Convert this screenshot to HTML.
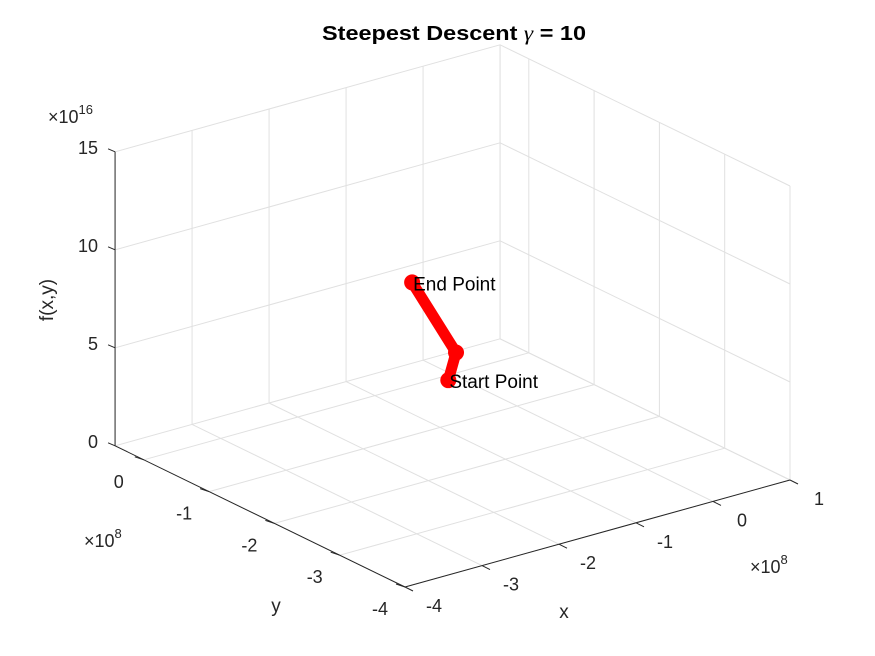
<!DOCTYPE html>
<html><head><meta charset="utf-8"><style>
body{margin:0;background:#fff;}
svg{display:block;font-family:"Liberation Sans",sans-serif;}
</style></head><body>
<svg id="chart" width="875" height="656">
<rect width="875" height="656" fill="#fff"/>
<g id="grid"></g>
<g id="axes"></g>
<g id="series"></g>
<text x="322" y="40" textLength="264" lengthAdjust="spacingAndGlyphs" font-size="20" font-weight="bold" fill="#000">Steepest Descent <tspan font-style="italic" font-weight="normal" font-family="Liberation Serif">γ</tspan> = 10</text>
<text transform="translate(53,300) rotate(-90)" text-anchor="middle" font-size="19" fill="#262626">f(x,y)</text>
<text x="276" y="612" text-anchor="middle" font-size="19" fill="#262626">y</text>
<text x="564" y="618" text-anchor="middle" font-size="19" fill="#262626">x</text>
<text x="48" y="123" font-size="18" fill="#262626">×10<tspan dy="-9" font-size="13">16</tspan></text>
<text x="84" y="547" font-size="18" fill="#262626">×10<tspan dy="-9" font-size="13">8</tspan></text>
<text x="750" y="573" font-size="18" fill="#262626">×10<tspan dy="-9" font-size="13">8</tspan></text>
</svg>
<script>
const xTicks=[-4,-3,-2,-1,0,1];
const yTicks=[-4,-3,-2,-1,0];
const zTicks=[0,5,10,15];
const xLim=[-4,1];
const yLim=[-4,0.44];
const zLim=[0,15];
const pathX=[-0.13,-0.03,-0.6];
const pathY=[-0.1,-0.1,-0.1];
const pathZ=[0.0,1.3,5.5];
const pointLabels=["Start Point","","End Point"];

const NS="http://www.w3.org/2000/svg";
function P(x,y,z){
  return [405+(x+4)*77-(y+4)*65.3, 587-(x+4)*21.4-(y+4)*31.8-z*19.6];
}
function line(g,a,b,stroke,w,name){
  const l=document.createElementNS(NS,'line');
  l.setAttribute('x1',a[0]);l.setAttribute('y1',a[1]);
  l.setAttribute('x2',b[0]);l.setAttribute('y2',b[1]);
  l.setAttribute('stroke',stroke);l.setAttribute('stroke-width',w);
  
  
  g.appendChild(l);return l;
}
function text(g,x,y,s,anchor,name,size,fill){
  const t=document.createElementNS(NS,'text');
  t.setAttribute('x',x);t.setAttribute('y',y);
  t.setAttribute('text-anchor',anchor);
  t.setAttribute('font-size',size||16);
  t.setAttribute('fill',fill||'#262626');
  t.textContent=s;
  
  
  g.appendChild(t);return t;
}
const grid=document.getElementById('grid');
const gc='#e0e0e0';
xTicks.forEach(x=>{
  if(x<xLim[0]||x>xLim[1])return;
  line(grid,P(x,yLim[1],zLim[0]),P(x,yLim[1],zLim[1]),gc,1,'grid-x-wall');
  line(grid,P(x,yLim[0],0),P(x,yLim[1],0),gc,1,'grid-x-floor');
});
yTicks.forEach(y=>{
  line(grid,P(xLim[1],y,zLim[0]),P(xLim[1],y,zLim[1]),gc,1,'grid-y-wall');
  line(grid,P(xLim[0],y,0),P(xLim[1],y,0),gc,1,'grid-y-floor');
});
zTicks.forEach(z=>{
  line(grid,P(xLim[0],yLim[1],z),P(xLim[1],yLim[1],z),gc,1,'grid-z-left-wall');
  line(grid,P(xLim[1],yLim[1],z),P(xLim[1],yLim[0],z),gc,1,'grid-z-right-wall');
});
line(grid,P(xLim[1],yLim[1],0),P(xLim[1],yLim[1],zLim[1]),gc,1,'grid-back-edge');

const ax=document.getElementById('axes');
const ac='#262626';
line(ax,P(xLim[0],yLim[1],zLim[0]),P(xLim[0],yLim[1],zLim[1]),ac,1,'z-axis-line');
line(ax,P(xLim[0],yLim[1],0),P(xLim[0],yLim[0],0),ac,1,'y-axis-line');
line(ax,P(xLim[0],yLim[0],0),P(xLim[1],yLim[0],0),ac,1,'x-axis-line');
zTicks.forEach(z=>{
  const p=P(xLim[0],yLim[1],z);
  line(ax,p,[p[0]-7,p[1]-3],ac,1,'z-tick');
  text(ax,p[0]-17,p[1]+2,String(z),'end','z-tick-label',18);
});
yTicks.forEach(y=>{
  const p=P(xLim[0],y,0);
  line(ax,p,[p[0]-9,p[1]-3],ac,1,'y-tick');
  text(ax,p[0]-25,p[1]+28,String(y),'middle','y-tick-label',18);
});
xTicks.forEach(x=>{
  const p=P(x,yLim[0],0);
  line(ax,p,[p[0]+8,p[1]+4],ac,1,'x-tick');
  text(ax,p[0]+29,p[1]+25,String(x),'middle','x-tick-label',18);
});

const sg=document.getElementById('series');
const pts=pathX.map((x,i)=>P(x,pathY[i],pathZ[i]));
const pl=document.createElementNS(NS,'polyline');
pl.setAttribute('points',pts.map(p=>p.join(',')).join(' '));
pl.setAttribute('fill','none');pl.setAttribute('stroke','#ff0000');
pl.setAttribute('stroke-width','11');pl.setAttribute('stroke-linejoin','round');


sg.appendChild(pl);
pts.forEach((p,i)=>{
  const c=document.createElementNS(NS,'circle');
  c.setAttribute('cx',p[0]);c.setAttribute('cy',p[1]);c.setAttribute('r',8);
  c.setAttribute('fill','#ff0000');
  
  
  sg.appendChild(c);
  if(pointLabels[i]) text(sg,p[0]+1,p[1]+8,pointLabels[i],'start','point-label',19,'#000');
});
</script>
</body></html>
